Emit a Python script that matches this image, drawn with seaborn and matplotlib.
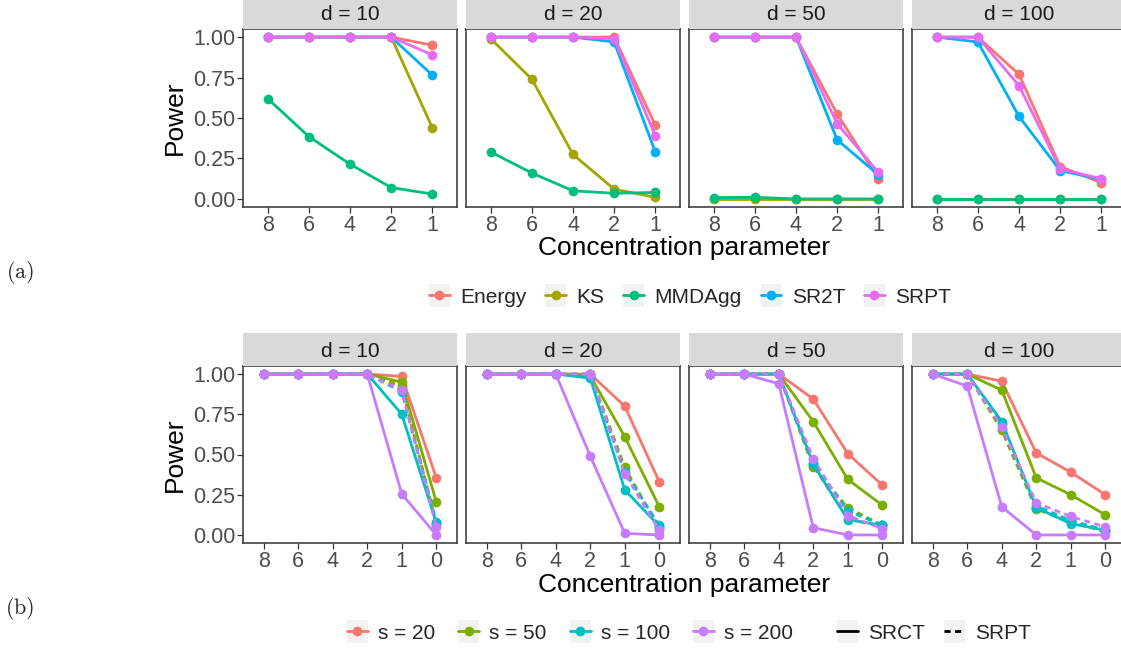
import matplotlib
matplotlib.use("Agg")
import matplotlib.pyplot as plt
import seaborn as sns
import pandas as pd
from matplotlib.lines import Line2D
from matplotlib.patches import Rectangle
from matplotlib.legend_handler import HandlerLine2D

# ---------------- data ----------------
dims = [10, 20, 50, 100]

conc_a = ["8", "6", "4", "2", "1"]
methods_a = ["Energy", "KS", "MMDAgg", "SR2T", "SRPT"]
colors_a = ["#F8766D", "#A3A500", "#00BF7D", "#00B0F6", "#E76BF3"]

power_a_d10 = {"Energy": [1, 1, 1, 1, 0.95], "KS": [1, 1, 1, 1, 0.44],
               "MMDAgg": [0.62, 0.385, 0.215, 0.07, 0.03],
               "SR2T": [1, 1, 1, 1, 0.765], "SRPT": [1, 1, 1, 1, 0.89]}
power_a_d20 = {"Energy": [1, 1, 1, 1, 0.455], "KS": [0.99, 0.74, 0.275, 0.06, 0.01],
               "MMDAgg": [0.29, 0.16, 0.05, 0.035, 0.04],
               "SR2T": [1, 1, 1, 0.97, 0.29], "SRPT": [1, 1, 1, 0.99, 0.39]}
power_a_d50 = {"Energy": [1, 1, 1, 0.525, 0.125], "KS": [0.0, 0.0, 0.0, 0.0, 0.0],
               "MMDAgg": [0.008, 0.01, 0.0, 0.0, 0.0],
               "SR2T": [1, 1, 1, 0.365, 0.15], "SRPT": [1, 1, 1, 0.465, 0.165]}
power_a_d100 = {"Energy": [1, 1, 0.77, 0.2, 0.10], "KS": [0.0, 0.0, 0.0, 0.0, 0.0],
                "MMDAgg": [0.0, 0.0, 0.0, 0.0, 0.0],
                "SR2T": [1, 0.97, 0.51, 0.175, 0.12], "SRPT": [1, 1, 0.70, 0.185, 0.125]}
panels_a = [power_a_d10, power_a_d20, power_a_d50, power_a_d100]

conc_b = ["8", "6", "4", "2", "1", "0"]
sizes_b = ["s = 20", "s = 50", "s = 100", "s = 200"]
colors_b = ["#F8766D", "#7CAE00", "#00BFC4", "#C77CFF"]
methods_b = ["SRCT", "SRPT"]

srct_d10 = {"s = 20": [1, 1, 1, 1, 0.985, 0.355], "s = 50": [1, 1, 1, 1, 0.95, 0.205],
            "s = 100": [1, 1, 1, 1, 0.75, 0.075], "s = 200": [1, 1, 1, 1, 0.255, 0.0]}
srpt_d10 = {"s = 20": [1, 1, 1, 1, 0.93, 0.06], "s = 50": [1, 1, 1, 1, 0.92, 0.07],
            "s = 100": [1, 1, 1, 1, 0.89, 0.08], "s = 200": [1, 1, 1, 1, 0.90, 0.05]}
srct_d20 = {"s = 20": [1, 1, 1, 1, 0.80, 0.33], "s = 50": [1, 1, 1, 0.99, 0.61, 0.175],
            "s = 100": [1, 1, 1, 0.975, 0.28, 0.055], "s = 200": [1, 1, 1, 0.49, 0.01, 0.0]}
srpt_d20 = {"s = 20": [1, 1, 1, 1, 0.40, 0.05], "s = 50": [1, 1, 1, 1, 0.42, 0.04],
            "s = 100": [1, 1, 1, 0.99, 0.39, 0.06], "s = 200": [1, 1, 1, 1, 0.38, 0.03]}
srct_d50 = {"s = 20": [1, 1, 1, 0.845, 0.505, 0.31], "s = 50": [1, 1, 1, 0.705, 0.345, 0.185],
            "s = 100": [1, 1, 1, 0.44, 0.095, 0.06], "s = 200": [1, 1, 0.94, 0.045, 0.0, 0.0]}
srpt_d50 = {"s = 20": [1, 1, 1, 0.43, 0.10, 0.05], "s = 50": [1, 1, 1, 0.42, 0.17, 0.06],
            "s = 100": [1, 1, 1, 0.45, 0.15, 0.06], "s = 200": [1, 1, 1, 0.475, 0.12, 0.04]}
srct_d100 = {"s = 20": [1, 1, 0.955, 0.51, 0.39, 0.25], "s = 50": [1, 1, 0.90, 0.355, 0.25, 0.125],
             "s = 100": [1, 1, 0.705, 0.17, 0.07, 0.03], "s = 200": [1, 0.925, 0.175, 0.0, 0.0, 0.0]}
srpt_d100 = {"s = 20": [1, 1, 0.66, 0.17, 0.08, 0.03], "s = 50": [1, 1, 0.65, 0.16, 0.08, 0.02],
             "s = 100": [1, 1, 0.69, 0.18, 0.09, 0.03], "s = 200": [1, 1, 0.67, 0.20, 0.115, 0.05]}
panels_b = [(srct_d10, srpt_d10), (srct_d20, srpt_d20), (srct_d50, srpt_d50), (srct_d100, srpt_d100)]

xlabel = "Concentration parameter"
ylabel = "Power"
yticks = [0.0, 0.25, 0.5, 0.75, 1.0]
yticklabels = ["0.00", "0.25", "0.50", "0.75", "1.00"]

# ---------------- style ----------------
sns.set_style("white")
plt.rcParams["font.family"] = ["Liberation Sans", "DejaVu Sans"]
plt.rcParams["mathtext.fontset"] = "cm"

W, H = 1121, 653
fig = plt.figure(figsize=(W / 100, H / 100), dpi=100)

TXT = "#4D4D4D"
LW = 2.0
MS = 7.0
TICK_FS = 15.5
STRIP_FS = 15
TITLE_FS = 19
LEG_FS = 15
panel_lefts = [243, 466, 689, 912]
PW = 214


def ax_at(left, top, bottom, width=PW):
    return fig.add_axes([left / W, 1 - bottom / H, width / W, (bottom - top) / H])


def style_panel(ax, ncat, first):
    ax.set_xlim(-0.6, ncat - 1 + 0.6)
    ax.set_ylim(-0.05, 1.05)
    ax.set_xlabel("")
    ax.set_ylabel("")
    ax.set_facecolor("white")
    for s in ax.spines.values():
        s.set_visible(True)
        s.set_color("#333333")
        s.set_linewidth(1.1)
    ax.tick_params(axis="x", length=4, width=0.9, color="#333333", labelsize=TICK_FS,
                   labelcolor=TXT, pad=1.5, direction="out", bottom=True)
    ax.set_yticks(yticks)
    if first:
        ax.set_yticklabels(yticklabels)
        ax.tick_params(axis="y", length=4, width=0.9, color="#333333", labelsize=TICK_FS,
                       labelcolor=TXT, pad=1.5, direction="out", left=True)
    else:
        ax.tick_params(axis="y", left=False, labelleft=False)
    ax.grid(False)


def strip(left, top, bottom, text):
    sa = ax_at(left, top, bottom)
    sa.set_facecolor("#D9D9D9")
    for s in sa.spines.values():
        s.set_visible(False)
    sa.set_xticks([])
    sa.set_yticks([])
    sa.text(0.5, 0.45, text, ha="center", va="center", fontsize=STRIP_FS, color="#1A1A1A",
            transform=sa.transAxes)


# ---------------- row (a) ----------------
A_TOP, A_BOT = 29, 207
for i, (d, pdata) in enumerate(zip(dims, panels_a)):
    rows = []
    for m in methods_a:
        for c, v in zip(conc_a, pdata[m]):
            rows.append({"conc": c, "power": v, "method": m})
    df = pd.DataFrame(rows)
    df["conc"] = pd.Categorical(df["conc"], categories=conc_a, ordered=True)
    df["x"] = df["conc"].cat.codes
    ax = ax_at(panel_lefts[i], A_TOP, A_BOT)
    sns.lineplot(data=df, x="x", y="power", hue="method", hue_order=methods_a,
                 palette=colors_a, marker="o", markersize=MS, markeredgewidth=0,
                 linewidth=LW, legend=False, ax=ax, sort=False)
    ax.set_xticks(range(len(conc_a)))
    ax.set_xticklabels(conc_a)
    style_panel(ax, len(conc_a), i == 0)
    strip(panel_lefts[i], -4, A_TOP, f"d = {d}")

# ---------------- row (b) ----------------
B_TOP, B_BOT = 366, 543
for i, (d, (srct, srpt)) in enumerate(zip(dims, panels_b)):
    rows = []
    for meth, src in zip(methods_b, (srct, srpt)):
        for s in sizes_b:
            for c, v in zip(conc_b, src[s]):
                rows.append({"conc": c, "power": v, "s": s, "method": meth})
    df = pd.DataFrame(rows)
    df["conc"] = pd.Categorical(df["conc"], categories=conc_b, ordered=True)
    df["x"] = df["conc"].cat.codes
    ax = ax_at(panel_lefts[i], B_TOP, B_BOT)
    sns.lineplot(data=df, x="x", y="power", hue="s", hue_order=sizes_b, palette=colors_b,
                 style="method", style_order=methods_b,
                 dashes={"SRCT": "", "SRPT": (2.2, 1.6)},
                 markers={"SRCT": "o", "SRPT": "o"}, markersize=MS, markeredgewidth=0,
                 linewidth=LW, legend=False, ax=ax, sort=False)
    ax.set_xticks(range(len(conc_b)))
    ax.set_xticklabels(conc_b)
    style_panel(ax, len(conc_b), i == 0)
    strip(panel_lefts[i], 333, B_TOP, f"d = {d}")

# ---------------- labels ----------------
for yc in [(A_TOP + A_BOT) / 2, (B_TOP + B_BOT) / 2]:
    fig.text(175 / W, 1 - yc / H, ylabel, rotation=90, ha="center", va="center",
             fontsize=TITLE_FS, color="black")
for yc in [248, 585]:
    fig.text(684.5 / W, 1 - yc / H, xlabel, ha="center", va="center", fontsize=TITLE_FS,
             color="black")

fig.text(20 / W, 1 - 272 / H, r"$\mathrm{(a)}$", ha="center", va="center", fontsize=16)
fig.text(20 / W, 1 - 608 / H, r"$\mathrm{(b)}$", ha="center", va="center", fontsize=16)


# ---------------- legends ----------------
class KeyHandler(HandlerLine2D):
    def create_artists(self, legend, orig_handle, xdescent, ydescent, width, height,
                       fontsize, trans):
        arts = super().create_artists(legend, orig_handle, xdescent, ydescent, width,
                                      height, fontsize, trans)
        rect = Rectangle((-xdescent, -ydescent - 0.15 * height), width, height * 1.3,
                         facecolor="#F2F2F2", edgecolor="none", transform=trans)
        return [rect] + arts


def key(color, ls="-", marker="o"):
    return Line2D([0], [0], color=color, lw=LW, ls=ls, marker=marker, markersize=MS,
                  markeredgewidth=0)


hm = {Line2D: KeyHandler()}
handles_a = [key(c) for c in colors_a]
fig.legend(handles_a, methods_a, loc="center", bbox_to_anchor=(690 / W, 1 - 297 / H),
           ncol=5, frameon=False, fontsize=LEG_FS, handlelength=1.0, handleheight=0.9,
           handletextpad=0.5, columnspacing=0.9, numpoints=1, handler_map=hm)

handles_b = [key(c) for c in colors_b]
fig.legend(handles_b, sizes_b, loc="center", bbox_to_anchor=(570 / W, 1 - 633 / H),
           ncol=4, frameon=False, fontsize=LEG_FS, handlelength=1.0, handleheight=0.9,
           handletextpad=0.5, columnspacing=1.1, numpoints=1, handler_map=hm)

handles_m = [key("black", "-", None), key("black", (0, (2.2, 1.6)), None)]
fig.legend(handles_m, methods_b, loc="center", bbox_to_anchor=(934 / W, 1 - 633 / H),
           ncol=2, frameon=False, fontsize=LEG_FS, handlelength=1.0, handleheight=0.9,
           handletextpad=0.5, columnspacing=0.9, numpoints=1, handler_map=hm)

fig.savefig("out.png", dpi=100)
